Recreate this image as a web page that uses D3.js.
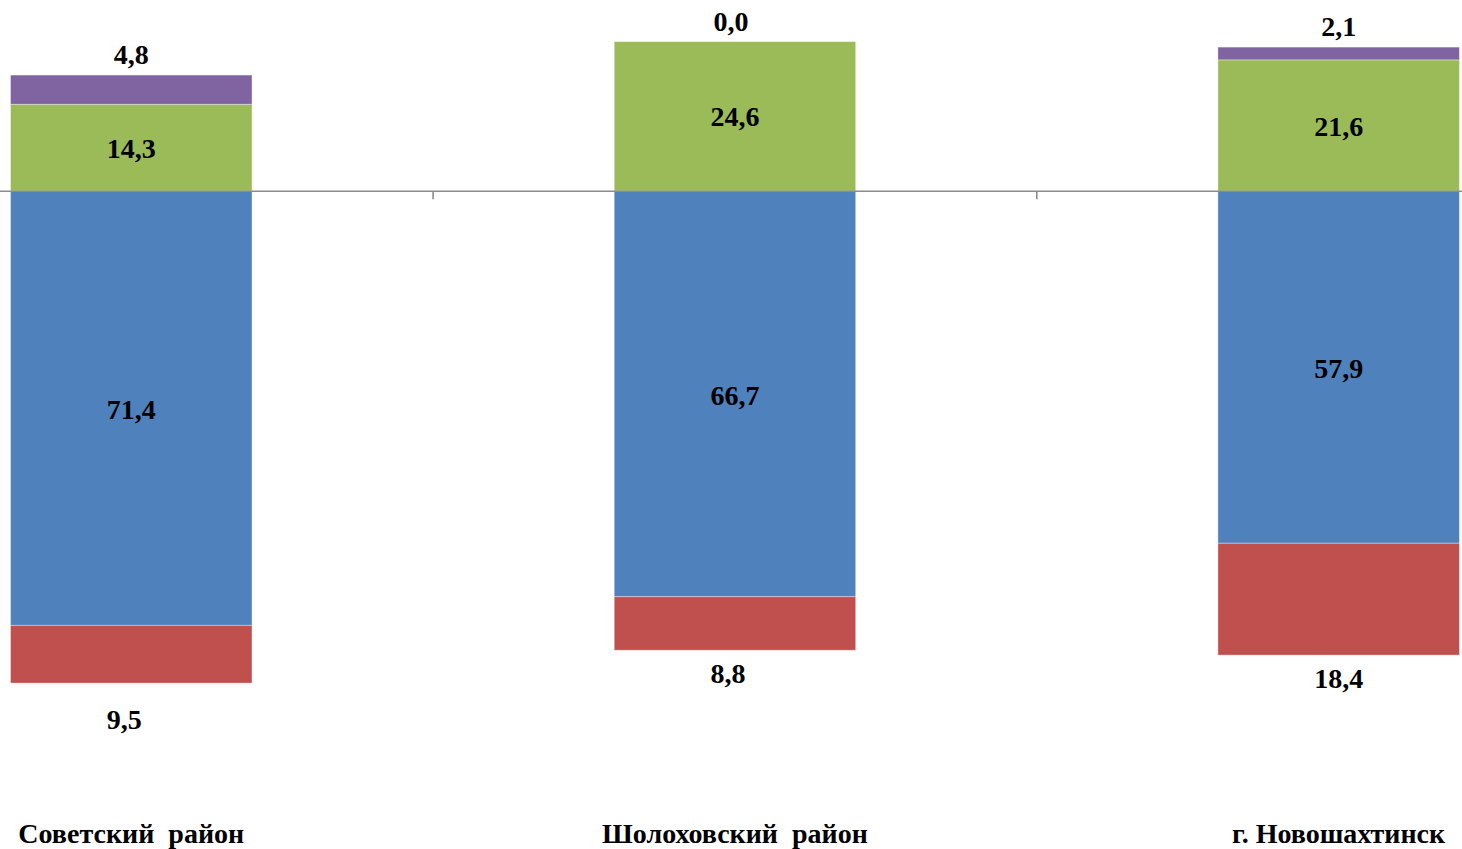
<!DOCTYPE html>
<html>
<head>
<meta charset="utf-8">
<script src="https://cdn.jsdelivr.net/npm/d3@7"></script>
<style>
  body { margin: 0; background: #fff; }
  svg { display: block; }
  text { font-family: "Liberation Serif", "Times New Roman", serif; font-weight: bold; fill: #000; }
</style>
</head>
<body>
<script>
// data
var categories = ["Советский  район", "Шолоховский  район", "г. Новошахтинск"];
var greenVals = [14.3, 24.6, 21.6];   // above zero
var purpleVals = [4.8, 0.0, 2.1];     // above green
var blueVals = [71.4, 66.7, 57.9];    // below zero
var redVals = [9.5, 8.8, 18.4];       // below blue

// small label nudges (layout only)
var topNudge = [0, -4, 0];
var bottomNudge = [[-7, 13], [-7, 0], [0, 0]];

var W = 1462, H = 849;
var svg = d3.select("body").append("svg").attr("width", W).attr("height", H);

var x = d3.scaleBand()
    .domain(categories)
    .range([-170.6, 1640.5])
    .paddingInner(0.6)
    .paddingOuter(0.3);

var y = d3.scaleLinear()
    .domain([-100, 30])
    .range([799.2, 8.8]);

var fmt = function(v) { return d3.format(".1f")(v).replace(".", ","); };

var rows = categories.map(function(c, i) {
    return { cat: c, i: i, green: greenVals[i], purple: purpleVals[i], blue: blueVals[i], red: redVals[i] };
});

// segments: [from, to, colour]
var segs = [];
rows.forEach(function(d) {
    segs.push({ cat: d.cat, y0: 0, y1: d.green, col: "#9BBB59" });
    segs.push({ cat: d.cat, y0: d.green, y1: d.green + d.purple, col: "#8064A2" });
    segs.push({ cat: d.cat, y0: 0, y1: -d.blue, col: "#4F81BD" });
    segs.push({ cat: d.cat, y0: -d.blue, y1: -d.blue - d.red, col: "#C0504D" });
});

svg.append("g").selectAll("rect")
    .data(segs.filter(function(s) { return s.y0 !== s.y1; }))
    .enter().append("rect")
    .attr("x", function(s) { return x(s.cat); })
    .attr("width", x.bandwidth())
    .attr("y", function(s) { return y(Math.max(s.y0, s.y1)); })
    .attr("height", function(s) { return Math.abs(y(s.y0) - y(s.y1)); })
    .attr("fill", function(s) { return s.col; })
    .attr("stroke", "#fff")
    .attr("stroke-opacity", 0.45)
    .attr("stroke-width", 0.8);

// zero axis line with ticks between categories
var axisG = svg.append("g");
axisG.append("line")
    .attr("x1", 0).attr("x2", W)
    .attr("y1", y(0)).attr("y2", y(0))
    .attr("stroke", "#8c8c8c").attr("stroke-width", 1.6);
var step = x.step();
axisG.selectAll(".tick")
    .data(categories.slice(0, -1))
    .enter().append("line")
    .attr("x1", function(c) { return x(c) + x.bandwidth() / 2 + step / 2; })
    .attr("x2", function(c) { return x(c) + x.bandwidth() / 2 + step / 2; })
    .attr("y1", y(0)).attr("y2", y(0) + 8)
    .attr("stroke", "#8c8c8c").attr("stroke-width", 1.6);

var cx = function(d) { return x(d.cat) + x.bandwidth() / 2; };
var labels = svg.append("g").attr("font-size", 28).attr("text-anchor", "middle");

// green, centered
labels.selectAll(".g").data(rows).enter().append("text")
    .attr("x", cx)
    .attr("y", function(d) { return (y(0) + y(d.green)) / 2 + 10; })
    .text(function(d) { return fmt(d.green); });
// blue, centered
labels.selectAll(".b").data(rows).enter().append("text")
    .attr("x", cx)
    .attr("y", function(d) { return (y(0) + y(-d.blue)) / 2 + 11; })
    .text(function(d) { return fmt(d.blue); });
// purple, above the bar
labels.selectAll(".p").data(rows).enter().append("text")
    .attr("x", function(d) { return cx(d) + topNudge[d.i]; })
    .attr("y", function(d) { return y(d.green + d.purple) - 11; })
    .text(function(d) { return fmt(d.purple); });
// red, below the bar
labels.selectAll(".r").data(rows).enter().append("text")
    .attr("x", function(d) { return cx(d) + bottomNudge[d.i][0]; })
    .attr("y", function(d) { return y(-d.blue - d.red) + 33 + bottomNudge[d.i][1]; })
    .text(function(d) { return fmt(d.red); });

// category names
svg.append("g").attr("font-size", 28).attr("text-anchor", "middle")
    .selectAll("text").data(categories).enter().append("text")
    .attr("x", function(c) { return x(c) + x.bandwidth() / 2; })
    .attr("y", 843)
    .style("white-space", "pre")
    .text(function(c) { return c; });
</script>
</body>
</html>
